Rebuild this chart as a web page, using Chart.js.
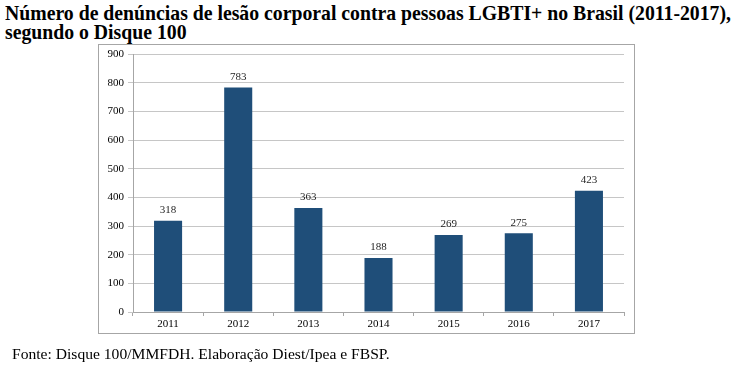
<!DOCTYPE html>
<html>
<head>
<meta charset="utf-8">
<script src="https://cdn.jsdelivr.net/npm/chart.js@4/dist/chart.umd.min.js"></script>
<style>
  body { margin: 0; background: #fff; width: 738px; height: 373px; overflow: hidden; position: relative; }
  .titulo { position: absolute; left: 5px; font-family: "Liberation Serif", serif; font-weight: bold; font-size: 21px; line-height: 21px; white-space: nowrap; transform-origin: 0 0; color: #000; }
  #t1 { top: 3px; }
  #t2 { top: 22px; }
  #fonte { position: absolute; left: 12px; top: 345px; font-family: "Liberation Serif", serif; font-size: 15.6px; color: #000; }
  #caixa { position: absolute; left: 98px; top: 44px; width: 535px; height: 288px; border: 1px solid #a6a6a6; }
  #grafico { position: absolute; left: 0; top: 0; }
</style>
</head>
<body>
<div id="t1" class="titulo">Número de denúncias de lesão corporal contra pessoas LGBTI+ no Brasil (2011-2017),</div>
<div id="t2" class="titulo">segundo o Disque 100</div>
<div id="caixa"></div>
<canvas id="grafico" width="738" height="373"></canvas>
<div id="fonte">Fonte: Disque 100/MMFDH. Elaboração Diest/Ipea e FBSP.</div>
<script>
// dados
var anos = ['2011', '2012', '2013', '2014', '2015', '2016', '2017'];
var denuncias = [318, 783, 363, 188, 269, 275, 423];
var ticksY = [0, 100, 200, 300, 400, 500, 600, 700, 800, 900];

var serif = "'Liberation Serif', 'Times New Roman', serif";

// titulo justificado: escala horizontal para ocupar a largura
var t1 = document.getElementById('t1');
var escala = 726 / t1.getBoundingClientRect().width;
t1.style.transform = 'scaleX(' + escala + ')';
document.getElementById('t2').style.transform = 'scaleX(' + escala + ')';

// rotulos em cima das barras
var rotulos = {
    id: 'rotulos',
    afterDatasetsDraw: function(chart){
        var ctx = chart.ctx;
        var meta = chart.getDatasetMeta(0);
        ctx.save();
        ctx.font = '11px ' + serif;
        ctx.fillStyle = '#262626';
        ctx.textAlign = 'center';
        ctx.textBaseline = 'bottom';
        meta.data.forEach(function(bar, i){
            ctx.fillText(denuncias[i], bar.x, bar.y - 5);
        });
        ctx.restore();
    }
};

function desenha(){
    new Chart(document.getElementById('grafico'), {
        type: 'bar',
        data: {
            labels: anos,
            datasets: [{
                data: denuncias,
                backgroundColor: '#1f4e79',
                categoryPercentage: 1,
                barPercentage: 0.4
            }]
        },
        options: {
            responsive: false,
            animation: false,
            layout: { padding: { left: 100, right: 114, top: 54, bottom: 41 } },
            plugins: { legend: { display: false }, tooltip: { enabled: false } },
            scales: {
                x: {
                    grid: { offset: true, drawOnChartArea: false, drawTicks: true, tickLength: 4, color: '#a6a6a6' },
                    border: { color: '#a6a6a6' },
                    ticks: { color: '#000', font: { family: serif, size: 11 }, padding: 2 },
                    afterFit: function(s){ s.height = 20; }
                },
                y: {
                    min: 0,
                    max: 900,
                    afterBuildTicks: function(s){ s.ticks = ticksY.map(function(v){ return { value: v }; }); },
                    grid: { color: '#c6c6c6', tickLength: 5, drawTicks: true },
                    border: { color: '#a6a6a6' },
                    ticks: { color: '#000', font: { family: serif, size: 11 }, padding: 4 },
                    afterFit: function(s){ s.width = 33; }
                }
            }
        },
        plugins: [rotulos]
    });
}

document.fonts.load('11px "Liberation Serif"').then(desenha, desenha);
</script>
</body>
</html>
